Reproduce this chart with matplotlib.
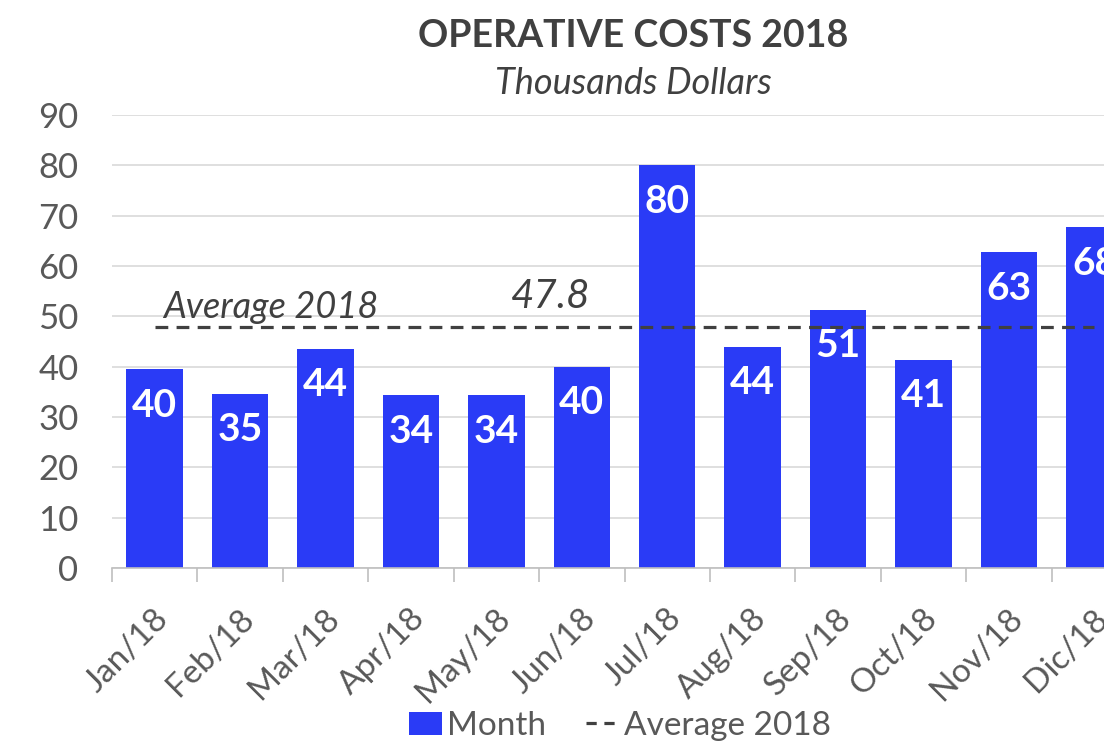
import numpy as np
import matplotlib.pyplot as plt
from matplotlib.lines import Line2D
from matplotlib.patches import Patch
import matplotlib.transforms as mtransforms

# Data
months = ["Jan/18", "Feb/18", "Mar/18", "Apr/18", "May/18", "Jun/18",
          "Jul/18", "Aug/18", "Sep/18", "Oct/18", "Nov/18", "Dic/18"]
costs = [39.5, 34.6, 43.6, 34.3, 34.3, 40.0, 80.0, 44.0, 51.3, 41.4, 62.8, 67.7]
average = round(float(np.mean(costs)), 1)

plt.rcParams['font.family'] = ['Lato', 'DejaVu Sans']

bar_color = "#2A3BF6"
text_gray = "#595959"
dark_gray = "#404040"

fig = plt.figure(figsize=(11.04, 7.46), dpi=100)
# axes deliberately run past the right edge (chart is cropped in the reference)
ax = fig.add_axes([0.1014, 0.2386, 0.9286, 0.6072])

x = np.arange(len(months))
ax.bar(x, costs, width=0.66, color=bar_color, zorder=2)

# Average line
ax.plot(x, [average] * len(x), color=dark_gray, linewidth=2.3,
        linestyle=(0, (4, 2.6)), zorder=3)

# Value labels inside bars
for xi, v in zip(x, costs):
    ax.annotate(f"{v:.0f}", (xi, v), xytext=(0, -26), textcoords="offset points",
                ha="center", va="center", color="white", fontsize=28,
                fontweight="bold", zorder=4)

ax.text(1.36, 51.7, "Average 2018", fontsize=26, style="italic",
        color=dark_gray, ha="center", va="center", zorder=4)
ax.text(4.63, 53.9, f"{average}", fontsize=29, style="italic",
        color=dark_gray, ha="center", va="center", zorder=4)

ax.set_xlim(-0.5, len(months) - 0.5)
ax.set_ylim(0, 90)
ax.set_yticks(np.arange(0, 91, 10))
ax.yaxis.grid(True, color="#D9D9D9", linewidth=1.2, zorder=0)
ax.set_axisbelow(True)

for side in ["top", "right", "left"]:
    ax.spines[side].set_visible(False)
ax.spines["bottom"].set_color("#BFBFBF")
ax.spines["bottom"].set_linewidth(1.2)

ax.tick_params(axis="y", length=0, labelsize=25, labelcolor=text_gray, pad=24)
ax.set_xticks(x)
ax.set_xticklabels(months, rotation=45, ha="right", va="center",
                   rotation_mode="anchor", fontsize=24, color=text_gray)
ax.tick_params(axis="x", length=0, pad=33)
offset = mtransforms.ScaledTranslation(0.09, 0, fig.dpi_scale_trans)
for lbl in ax.get_xticklabels():
    lbl.set_transform(lbl.get_transform() + offset)

# Category boundary tick marks
ax.set_xticks(np.arange(-0.5, len(months), 1), minor=True)
ax.tick_params(axis="x", which="minor", length=10, color="#BFBFBF", width=1.2)

fig.text(633 / 1104, 1 - 36 / 746, "OPERATIVE COSTS 2018", ha="center",
         va="center", fontsize=27, fontweight="bold", color=dark_gray)
fig.text(633 / 1104, 1 - 84 / 746, "Thousands Dollars", ha="center",
         va="center", fontsize=26, style="italic", color=dark_gray)

handles = [Patch(facecolor=bar_color, label="Month"),
           Line2D([0], [0], color=dark_gray, linewidth=2.3,
                  linestyle=(0, (3.2, 2.4)), label="Average 2018")]
fig.legend(handles=handles, loc="center", bbox_to_anchor=(620 / 1104, 1 - 726 / 746),
           ncol=2, frameon=False, fontsize=24, labelcolor=text_gray,
           handlelength=1.0, handletextpad=0.15, columnspacing=1.2,
           borderpad=0, borderaxespad=0)

fig.savefig("out.png", dpi=100)
